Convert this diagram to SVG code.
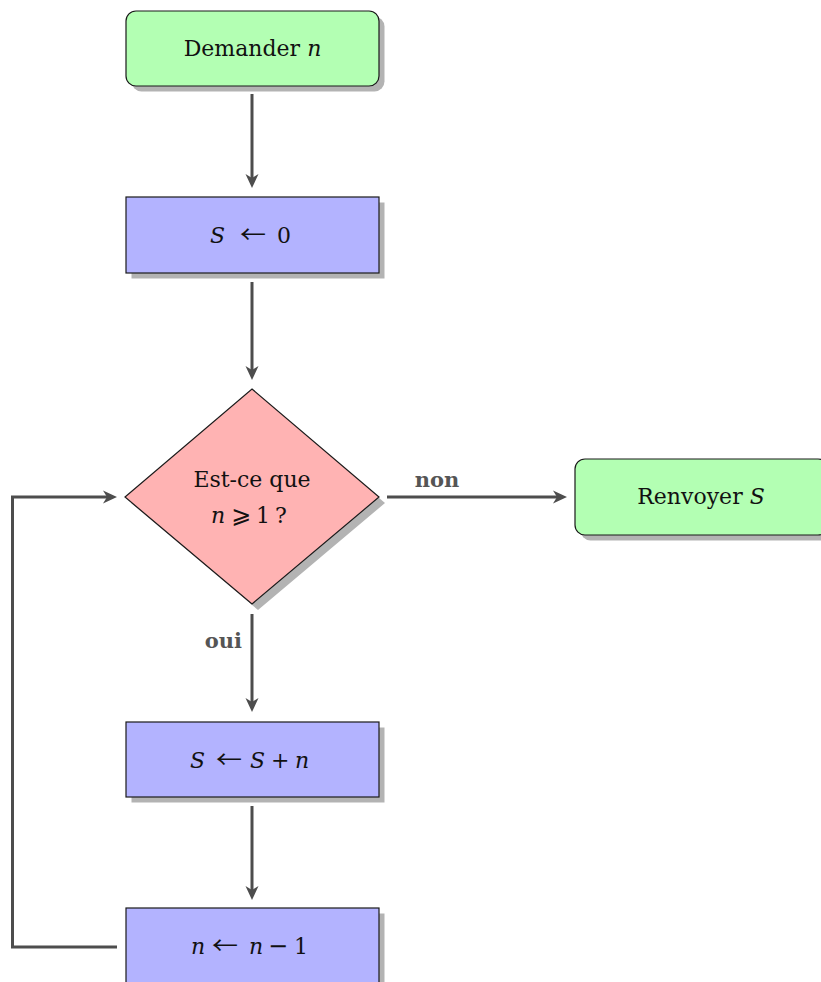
<svg xmlns="http://www.w3.org/2000/svg" width="821" height="982" viewBox="0 0 821 982">
<defs>
<style>
.shadow{fill:#b3b3b3;stroke:none}
.green{fill:#b3ffb3;stroke:#1a1a1a;stroke-width:1.2}
.blue{fill:#b3b3ff;stroke:#1a1a1a;stroke-width:1.2}
.red{fill:#ffb3b3;stroke:#1a1a1a;stroke-width:1.2}
.t{font-family:"DejaVu Serif","DejaVu Sans",serif;font-size:22px;fill:#111;text-anchor:middle}
.m{font-family:"DejaVu Serif","DejaVu Sans",serif;font-size:22px;fill:#111}
.i{font-style:italic}
.ar{font-family:"Noto Sans CJK JP","DejaVu Sans",sans-serif;font-size:24px}
.ge{font-family:"DejaVu Sans",sans-serif;font-size:24px}
.lbl{font-family:"DejaVu Serif",serif;font-size:21px;font-weight:bold;fill:#555}
.edge{fill:none;stroke:#4d4d4d;stroke-width:3;marker-end:url(#ah)}
</style>
<marker id="ah" viewBox="-15 -7 16 14" markerWidth="16" markerHeight="14" refX="-8" refY="0" orient="auto" markerUnits="userSpaceOnUse">
<path d="M0,0 L-14,-6.5 L-10,0 L-14,6.5 Z" fill="#4d4d4d"/>
</marker>
</defs>
<rect width="821" height="982" fill="#ffffff"/>

<g id="connectors">
<line class="edge" x1="252" y1="94" x2="252" y2="180"/>
<line class="edge" x1="252" y1="282" x2="252" y2="372"/>
<line class="edge" x1="387" y1="497" x2="559" y2="497"/>
<line class="edge" x1="252" y1="614" x2="252" y2="704"/>
<line class="edge" x1="252" y1="806" x2="252" y2="892"/>
<polyline class="edge" points="117,947 12.5,947 12.5,497 109,497"/>
<text class="lbl" x="437" y="487" text-anchor="middle">non</text>
<text class="lbl" x="242" y="648" text-anchor="end">oui</text>
</g>

<g id="start">
<rect class="shadow" x="131.5" y="16.5" width="253" height="75" rx="10"/>
<rect class="green" x="126" y="11" width="253" height="75" rx="10"/>
<text class="t" x="252.5" y="56">Demander <tspan class="i">n</tspan></text>
</g>

<g id="init">
<rect class="shadow" x="131.5" y="202.5" width="253" height="76"/>
<rect class="blue" x="126" y="197" width="253" height="76"/>
<text class="m" y="243"><tspan class="i" x="210">S</tspan><tspan class="ar" x="240" textLength="26" lengthAdjust="spacingAndGlyphs">←</tspan><tspan x="277">0</tspan></text>
</g>

<g id="test">
<polygon class="shadow" points="258,395 385,503 258,610 131,503"/>
<polygon class="red" points="252,389 379,497 252,604 125,497"/>
<text class="t" x="252" y="487">Est-ce que</text>
<text class="m" y="523"><tspan class="i" x="211">n</tspan><tspan class="ge" x="231">⩾</tspan><tspan x="256">1</tspan><tspan x="275">?</tspan></text>
</g>

<g id="return">
<rect class="shadow" x="580.5" y="464.5" width="253" height="76" rx="10"/>
<rect class="green" x="575" y="459" width="253" height="76" rx="10"/>
<text class="t" x="701" y="504">Renvoyer <tspan class="i">S</tspan></text>
</g>

<g id="sum">
<rect class="shadow" x="131.5" y="727.5" width="253" height="75"/>
<rect class="blue" x="126" y="722" width="253" height="75"/>
<text class="m" y="768"><tspan class="i" x="190">S</tspan><tspan class="ar" x="216" textLength="26" lengthAdjust="spacingAndGlyphs">←</tspan><tspan class="i" x="250">S</tspan><tspan x="271">+</tspan><tspan class="i" x="295">n</tspan></text>
</g>

<g id="decr">
<rect class="shadow" x="131.5" y="913.5" width="253" height="75"/>
<rect class="blue" x="126" y="908" width="253" height="75"/>
<text class="m" y="954"><tspan class="i" x="191">n</tspan><tspan class="ar" x="212" textLength="26" lengthAdjust="spacingAndGlyphs">←</tspan><tspan class="i" x="249">n</tspan><tspan x="268" font-size="24">−</tspan><tspan x="294">1</tspan></text>
</g>
</svg>
